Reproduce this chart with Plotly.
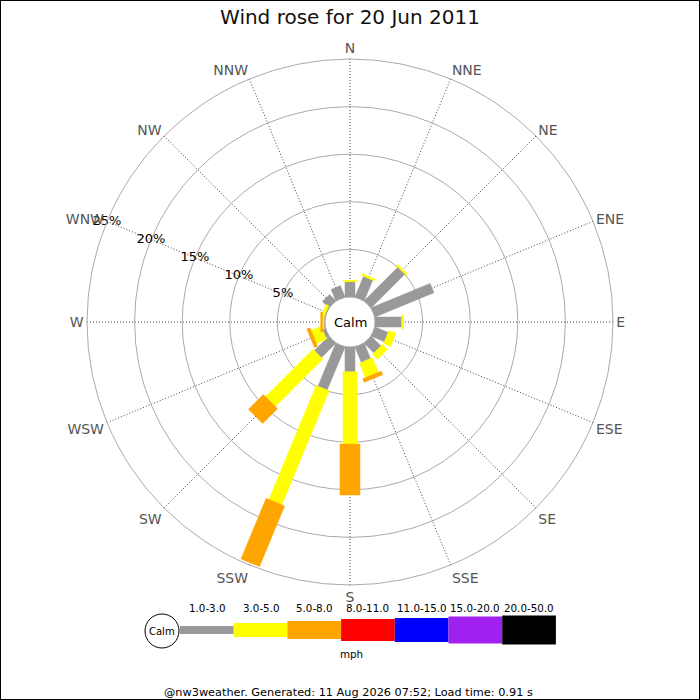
import numpy as np
import plotly.graph_objects as go

# Wind rose data: % of time from each direction, split by speed band (mph)
directions = ['N', 'NNE', 'NE', 'ENE', 'E', 'ESE', 'SE', 'SSE',
              'S', 'SSW', 'SW', 'WSW', 'W', 'WNW', 'NW', 'NNW']
speed_bands = ['1.0-3.0', '3.0-5.0', '5.0-8.0', '8.0-11.0',
               '11.0-15.0', '15.0-20.0', '20.0-50.0']
band_colors = ['#999999', '#ffff00', '#ffa500', '#ff0000',
               '#0000ff', '#a020f0', '#000000']

pct_1_3 = [1.6, 2.35, 5.0, 6.7, 2.8, 1.5, 1.45, 1.75,
           2.6, 4.9, 2.15, 0.35, 0.1, 0.1, 0.95, 1.3]
pct_3_5 = [0.15, 0.2, 0.2, 0.0, 0.2, 0.8, 0.75, 1.65,
           7.6, 12.95, 7.05, 1.15, 0.15, 0.3, 0.0, 0.0]
pct_5_8 = [0.0, 0.0, 0.0, 0.0, 0.0, 0.0, 0.0, 0.4,
           5.35, 6.9, 2.2, 0.35, 0.2, 0.0, 0.0, 0.0]

ring_ticks = [5, 10, 15, 20, 25]
title_text = 'Wind rose for 20 Jun 2011'
footer_text = '@nw3weather. Generated: 11 Aug 2026 07:52; Load time: 0.91 s'

# geometry (pixels on a 700x700 page)
W = 700
R_PX = 263.0            # outer ring radius
CALM_PX = 25.0          # calm circle radius
HOLE = CALM_PX / R_PX
R_MAX = ring_ticks[-1]
half_widths_px = [5, 7, 10]   # bar half widths per speed band

angles = [i * 22.5 for i in range(len(directions))]


def to_norm(v):
    return HOLE + (1 - HOLE) * v / R_MAX


def to_val(n):
    return (n - HOLE) / (1 - HOLE) * R_MAX


def rect_polar(theta, a, b, hw_px):
    """Corners of a straight-sided bar from value a to b along theta."""
    hw = hw_px / R_PX
    rs, ts = [], []
    for R, sgn in [(to_norm(a), -1), (to_norm(b), -1), (to_norm(b), 1), (to_norm(a), 1)]:
        rs.append(to_val(np.hypot(R, hw)))
        ts.append(theta + sgn * np.degrees(np.arctan2(hw, R)))
    rs.append(rs[0])
    ts.append(ts[0])
    return rs, ts


fig = go.Figure()

bands = [pct_1_3, pct_3_5, pct_5_8]
for k, values in enumerate(bands):
    for j, theta in enumerate(angles):
        v = values[j]
        if v <= 0:
            continue
        base = sum(bands[m][j] for m in range(k))
        rs, ts = rect_polar(theta, base, base + v, half_widths_px[k])
        fig.add_trace(go.Scatterpolar(
            r=rs, theta=ts, mode='lines', fill='toself',
            fillcolor=band_colors[k], line=dict(color=band_colors[k], width=0.5),
            hoverinfo='skip', showlegend=False
        ))

# percentage labels along the WNW spoke
fig.add_trace(go.Scatterpolar(
    r=ring_ticks, theta=[292.5] * len(ring_ticks), mode='text',
    text=[f'{v}%' for v in ring_ticks],
    textfont=dict(family='DejaVu Sans', size=13, color='black'),
    cliponaxis=False, showlegend=False, hoverinfo='skip'
))

cx, cy = 350.0, 322.0
fig.update_layout(
    width=W, height=W,
    margin=dict(l=0, r=0, t=0, b=0),
    paper_bgcolor='white',
    font=dict(family='DejaVu Sans', color='black'),
    title=dict(text=title_text, x=0.5, xanchor='center', y=1 - 17 / W, yanchor='middle',
               font=dict(size=20, color='#111')),
    polar=dict(
        domain=dict(x=[(cx - R_PX) / W, (cx + R_PX) / W],
                    y=[1 - (cy + R_PX) / W, 1 - (cy - R_PX) / W]),
        hole=HOLE,
        bgcolor='white',
        radialaxis=dict(range=[0, R_MAX], tickvals=ring_ticks, showticklabels=False,
                        ticks='', showline=False, gridcolor='#aaaaaa', gridwidth=1),
        angularaxis=dict(rotation=90, direction='clockwise', tickmode='array',
                         tickvals=angles, ticktext=directions, ticks='',
                         tickfont=dict(size=14, color='#555555'),
                         showgrid=True, gridcolor='#444444', griddash='1px,2px', gridwidth=1,
                         showline=True, linecolor='#aaaaaa', linewidth=1),
    ),
)

shapes = []
annotations = []


def px_x(x):
    return x / W


def px_y(y):
    return 1 - y / W


def add_text(text, x, y, size):
    annotations.append(dict(text=text, x=px_x(x), y=px_y(y), xref='paper', yref='paper',
                            xanchor='center', yanchor='middle', showarrow=False,
                            font=dict(size=size, color='black')))


add_text('Calm', cx, cy, 13)

# speed legend
legend_x0 = 180.0
legend_step = 53.7
legend_cy = 630.0
legend_heights = [8, 14, 18, 22, 24, 27, 29]
shapes.append(dict(type='circle', xref='paper', yref='paper',
                   x0=px_x(162 - 17), x1=px_x(162 + 17), y0=px_y(631 + 17), y1=px_y(631 - 17),
                   line=dict(color='black', width=1), fillcolor='white'))
add_text('Calm', 162, 631, 10)
for i, label in enumerate(speed_bands):
    x0 = legend_x0 + i * legend_step
    h = legend_heights[i]
    shapes.append(dict(type='rect', xref='paper', yref='paper',
                       x0=px_x(x0), x1=px_x(x0 + legend_step),
                       y0=px_y(legend_cy + h / 2), y1=px_y(legend_cy - h / 2),
                       line=dict(width=0), fillcolor=band_colors[i], layer='below'))
    add_text(label, x0 + legend_step / 2, 607.5, 10.3)
add_text('mph', 351, 654, 10.3)
add_text(footer_text, 348, 692.5, 11.3)

# frame round the whole image
shapes.append(dict(type='rect', xref='paper', yref='paper', x0=0, x1=1, y0=0, y1=1,
                   line=dict(color='black', width=2)))

fig.update_layout(shapes=shapes, annotations=annotations)

fig.write_html("out.html", config={'displayModeBar': False},
               post_script="document.body.style.margin='0';document.body.style.overflow='hidden';")
